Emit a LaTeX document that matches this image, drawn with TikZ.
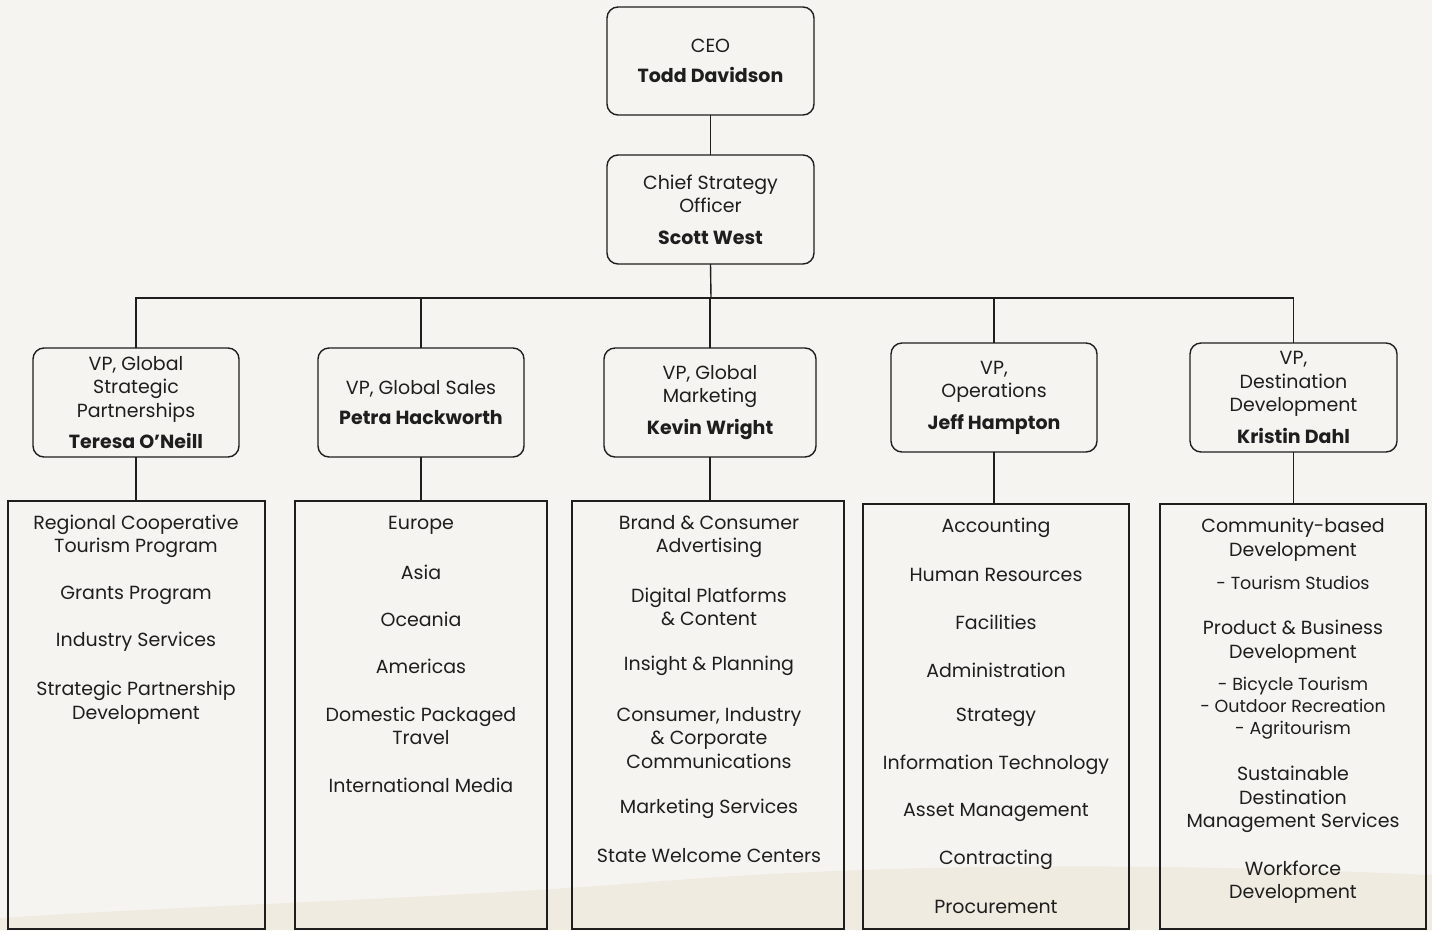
\documentclass[tikz,border=0pt]{standalone}
\usepackage{fontspec}
\setmainfont{Poppins}
\definecolor{bg}{HTML}{F5F4F0}
\definecolor{hill}{HTML}{EDE4D4}
\definecolor{ink}{HTML}{1E1E1E}
\begin{document}
\begin{tikzpicture}[x=1pt,y=-1pt,
  every node/.style={inner sep=0pt, outer sep=0pt, text=ink},
  box/.style={draw=ink, line width=1.4pt, rounded corners=11pt},
  dept/.style={draw=ink, line width=1.4pt, anchor=north west},
  lbl/.style={align=center, yshift=-2pt, font=\fontsize{19}{23.5}\selectfont},
  sub/.style={align=center, yshift=-2pt, font=\fontsize{17.5}{21}\selectfont},
  conn/.style={draw=ink, line width=1.4pt}]
\useasboundingbox (0,0) rectangle (1432,930);
\fill[bg] (0,0) rectangle (1432,930);
\fill[hill, opacity=0.5] (0,930) -- (0,918) .. controls (200,905) and (450,898) .. (650,882)
  .. controls (850,866) and (1100,860) .. (1432,875) -- (1432,930) -- cycle;
% top
\node[box, minimum width=207pt, minimum height=108pt, lbl, yshift=2pt] (ceo) at (710.5,61) {CEO\\[7pt]\textbf{Todd Davidson}};
\node[box, minimum width=207pt, minimum height=109pt, lbl, yshift=2pt] (cso) at (710.5,209.5) {Chief Strategy\\Officer\\[8pt]\textbf{Scott West}};
% VPs
\node[box, minimum width=206pt, minimum height=109pt, lbl, yshift=2pt] (v1) at (136,402.5) {VP, Global\\Strategic\\Partnerships\\[8pt]\textbf{Teresa O’Neill}};
\node[box, minimum width=206pt, minimum height=109pt, lbl, yshift=2pt] (v2) at (421,402.5) {VP, Global Sales\\[7pt]\textbf{Petra Hackworth}};
\node[box, minimum width=212pt, minimum height=109pt, lbl, yshift=2pt] (v3) at (710,402.5) {VP, Global\\Marketing\\[8pt]\textbf{Kevin Wright}};
\node[box, minimum width=206pt, minimum height=109pt, lbl, yshift=2pt] (v4) at (994,397.5) {VP,\\Operations\\[8pt]\textbf{Jeff Hampton}};
\node[box, minimum width=207pt, minimum height=109pt, lbl, yshift=2pt] (v5) at (1293.5,397.5) {VP,\\Destination\\Development\\[8pt]\textbf{Kristin Dahl}};
% departments
\node[dept, minimum width=257pt, minimum height=428pt] (d1) at (8,501) {};
\node[dept, minimum width=252pt, minimum height=428pt] (d2) at (295,501) {};
\node[dept, minimum width=272pt, minimum height=428pt] (d3) at (572,501) {};
\node[dept, minimum width=266pt, minimum height=425pt] (d4) at (863,504) {};
\node[dept, minimum width=266pt, minimum height=425pt] (d5) at (1160,504) {};
% connectors
\coordinate (bus) at (711,298);
\draw[conn] (ceo.south) -- (cso.north);
\draw[conn] (cso.south) -- (bus);
\draw[conn] (v1.north) -- (v1.north |- bus) -- (v5.north |- bus) -- (v5.north);
\draw[conn] (v2.north) -- (v2.north |- bus);
\draw[conn] (v3.north) -- (v3.north |- bus);
\draw[conn] (v4.north) -- (v4.north |- bus);
\draw[conn] (v1.south) -- (v1.south |- d1.north);
\draw[conn] (v2.south) -- (v2.south |- d2.north);
\draw[conn] (v3.south) -- (v3.south |- d3.north);
\draw[conn] (v4.south) -- (v4.south |- d4.north);
\draw[conn] (v5.south) -- (v5.south |- d5.north);
% column 1
\node[lbl] (a1) at (136,534.5) {Regional Cooperative\\Tourism Program};
\node[lbl] (a2) at (136,593) {Grants Program};
\node[lbl] (a3) at (136,640) {Industry Services};
\node[lbl] (a4) at (136,700.5) {Strategic Partnership\\Development};
% column 2
\node[lbl] (b1) at (421,523) {Europe};
\node[lbl] (b2) at (421,570) {Asia};
\node[lbl] (b3) at (421,617) {Oceania};
\node[lbl] (b4) at (421,664) {Americas};
\node[lbl] (b5) at (421,724) {Domestic Packaged\\Travel};
\node[lbl] (b6) at (421,783) {International Media};
% column 3
\node[lbl] (c1) at (709,534.5) {Brand \& Consumer\\Advertising};
\node[lbl] (c2) at (709,605) {Digital Platforms\\\& Content};
\node[lbl] (c3) at (709,664) {Insight \& Planning};
\node[lbl] (c4) at (709,736) {Consumer, Industry\\\& Corporate\\Communications};
\node[lbl] (c5) at (709,807) {Marketing Services};
\node[lbl] (c6) at (709,854) {State Welcome Centers};
% column 4
\node[lbl] (e1) at (996,526) {Accounting};
\node[lbl] (e2) at (996,573) {Human Resources};
\node[lbl] (e3) at (996,620) {Facilities};
\node[lbl] (e4) at (996,668) {Administration};
\node[lbl] (e5) at (996,715) {Strategy};
\node[lbl] (e6) at (996,763) {Information Technology};
\node[lbl] (e7) at (996,810) {Asset Management};
\node[lbl] (e8) at (996,858) {Contracting};
\node[lbl] (e9) at (996,905) {Procurement};
% column 5
\node[lbl] (f1) at (1293,537.5) {Community-based\\Development};
\node[sub] (f2) at (1293,581) {- Tourism Studios};
\node[lbl] (f3) at (1293,639.5) {Product \& Business\\Development};
\node[sub, font=\fontsize{17.5}{22}\selectfont] (f4) at (1293,706) {- Bicycle Tourism\\- Outdoor Recreation\\- Agritourism};
\node[lbl] (f5) at (1293,797.5) {Sustainable\\Destination\\Management Services};
\node[lbl] (f6) at (1293,880) {Workforce\\Development};
\end{tikzpicture}
\end{document}
